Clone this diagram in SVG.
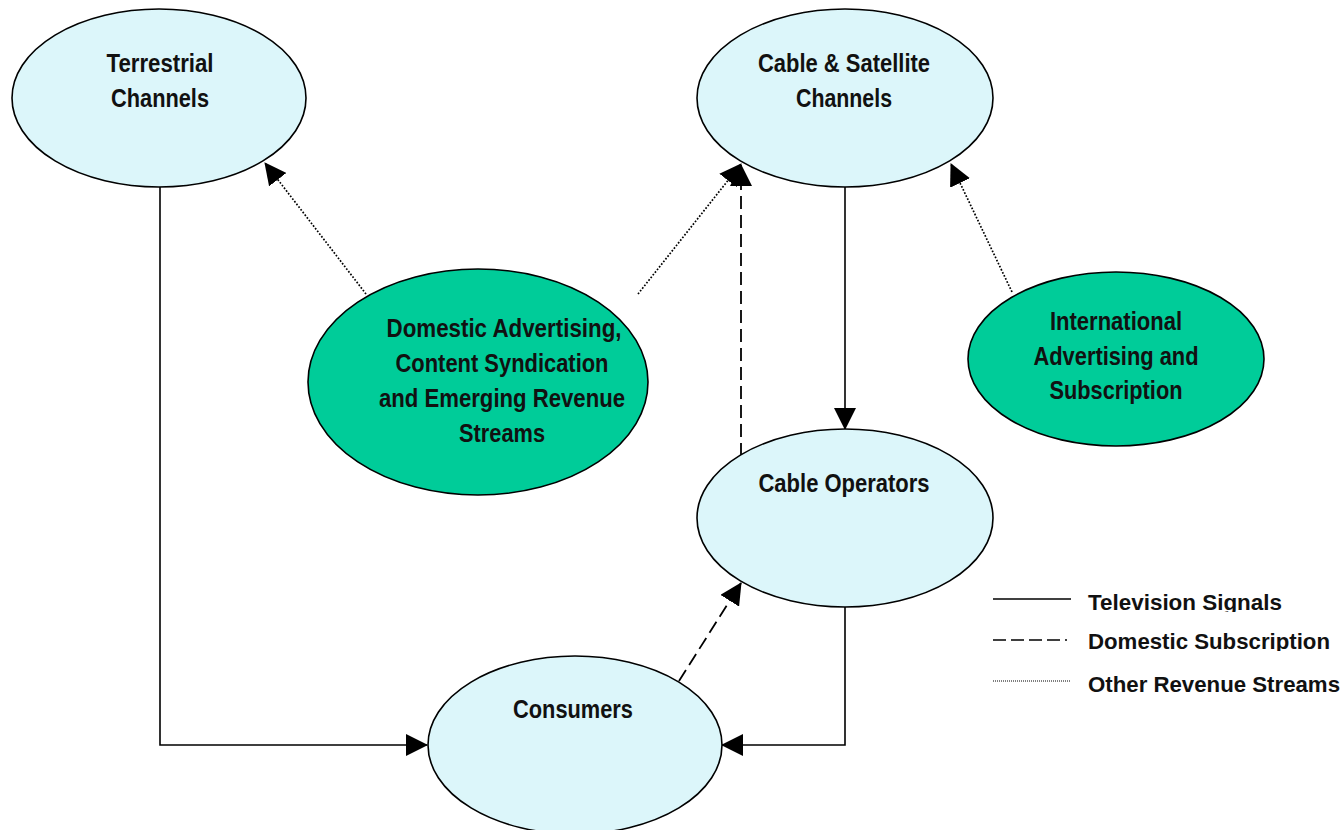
<svg xmlns="http://www.w3.org/2000/svg" width="1343" height="830" viewBox="0 0 1343 830">
<style>
.blue{fill:#DCF6FA;stroke:#000;stroke-width:1.6}
.green{fill:#00CC99;stroke:#000;stroke-width:1.6}
.lbl{font-family:"Liberation Sans",Arial,sans-serif;font-weight:bold;font-size:26px;fill:#111;text-anchor:middle}
.leg{font-family:"Liberation Sans",Arial,sans-serif;font-weight:bold;font-size:22px;fill:#111}
.solid{fill:none;stroke:#000;stroke-width:1.6}
.dash{fill:none;stroke:#000;stroke-width:1.8;stroke-dasharray:13 6}
.dot{fill:none;stroke:#000;stroke-width:1.7;stroke-dasharray:1.7 1.7}
</style>
<defs>
<marker id="arr" viewBox="0 0 22 22" refX="21" refY="11" markerWidth="22" markerHeight="22" markerUnits="userSpaceOnUse" orient="auto">
<path d="M0,0 L22,11 L0,22 z" fill="#000"/>
</marker>
<clipPath id="c1"><rect x="1080" y="585" width="263" height="27"/></clipPath>
<clipPath id="c2"><rect x="1080" y="625" width="263" height="26"/></clipPath>
<clipPath id="c3"><rect x="1080" y="670" width="263" height="30"/></clipPath>
</defs>

<g id="connectors">
<path class="solid" d="M160,187 V745 H427" marker-end="url(#arr)"/>
<path class="solid" d="M845,607 V745 H722" marker-end="url(#arr)"/>
<path class="solid" d="M845,187 V429" marker-end="url(#arr)"/>
<path class="dot" d="M366,294 L265,163" marker-end="url(#arr)"/>
<path class="dot" d="M638,294 L741,164" marker-end="url(#arr)"/>
<path class="dash" d="M741,456 V165" marker-end="url(#arr)"/>
<path class="dot" d="M1012,292 L951,164" marker-end="url(#arr)"/>
<path class="dash" d="M679,681 L741,583" marker-end="url(#arr)"/>
</g>

<g id="terrestrial">
<ellipse class="blue" cx="159" cy="98" rx="147" ry="89"/>
<text class="lbl" x="160" y="72" textLength="107" lengthAdjust="spacingAndGlyphs">Terrestrial</text>
<text class="lbl" x="160" y="107" textLength="98" lengthAdjust="spacingAndGlyphs">Channels</text>
</g>

<g id="cable-satellite">
<ellipse class="blue" cx="845" cy="98" rx="148" ry="89"/>
<text class="lbl" x="844" y="72" textLength="172" lengthAdjust="spacingAndGlyphs">Cable &amp; Satellite</text>
<text class="lbl" x="844" y="107" textLength="96" lengthAdjust="spacingAndGlyphs">Channels</text>
</g>

<g id="domestic">
<ellipse class="green" cx="478" cy="382" rx="170" ry="113"/>
<text class="lbl" x="504" y="337" textLength="235" lengthAdjust="spacingAndGlyphs">Domestic Advertising,</text>
<text class="lbl" x="502" y="372" textLength="213" lengthAdjust="spacingAndGlyphs">Content Syndication</text>
<text class="lbl" x="502" y="407" textLength="246" lengthAdjust="spacingAndGlyphs">and Emerging Revenue</text>
<text class="lbl" x="502" y="442" textLength="86" lengthAdjust="spacingAndGlyphs">Streams</text>
</g>

<g id="international">
<ellipse class="green" cx="1116" cy="359" rx="148" ry="87"/>
<text class="lbl" x="1116" y="330" textLength="132" lengthAdjust="spacingAndGlyphs">International</text>
<text class="lbl" x="1116" y="365" textLength="165" lengthAdjust="spacingAndGlyphs">Advertising and</text>
<text class="lbl" x="1116" y="399" textLength="133" lengthAdjust="spacingAndGlyphs">Subscription</text>
</g>

<g id="cable-operators">
<ellipse class="blue" cx="845" cy="518" rx="148" ry="89"/>
<text class="lbl" x="844" y="492" textLength="171" lengthAdjust="spacingAndGlyphs">Cable Operators</text>
</g>

<g id="consumers">
<ellipse class="blue" cx="575" cy="745" rx="147" ry="89"/>
<text class="lbl" x="573" y="718" textLength="120" lengthAdjust="spacingAndGlyphs">Consumers</text>
</g>

<g id="legend">
<line x1="993" y1="599" x2="1071" y2="599" stroke="#000" stroke-width="1.5"/>
<line x1="993" y1="640" x2="1071" y2="640" stroke="#000" stroke-width="1.6" stroke-dasharray="13 5 13 5 13 5 13 5 2"/>
<line x1="993" y1="681" x2="1071" y2="681" stroke="#000" stroke-width="1.2" stroke-dasharray="1 1"/>
<text class="leg" x="1088" y="610" textLength="194" lengthAdjust="spacingAndGlyphs" clip-path="url(#c1)">Television Signals</text>
<text class="leg" x="1088" y="649" textLength="242" lengthAdjust="spacingAndGlyphs" clip-path="url(#c2)">Domestic Subscription</text>
<text class="leg" x="1088" y="692" textLength="252" lengthAdjust="spacingAndGlyphs" clip-path="url(#c3)">Other Revenue Streams</text>
</g>
</svg>
